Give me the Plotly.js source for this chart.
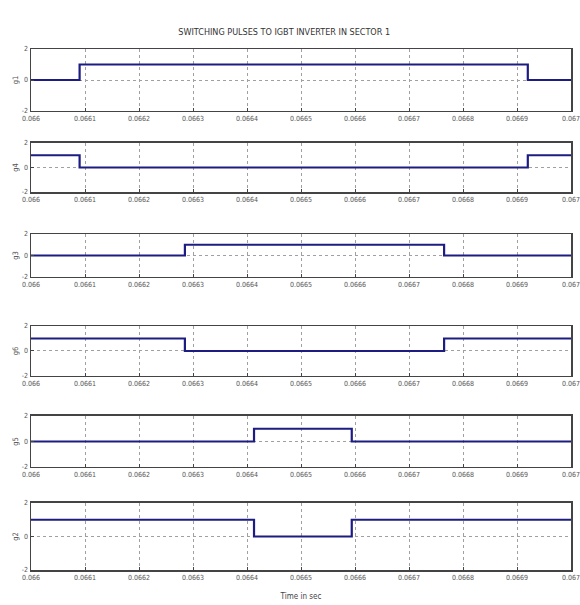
<!DOCTYPE html>
<html>
<head>
<meta charset="utf-8">
<script src="https://cdn.plot.ly/plotly-3.0.1.min.js"></script>
<style>
  html, body { margin: 0; padding: 0; background: #fff; }
  #chart { width: 580px; height: 605px; }
</style>
</head>
<body>
<div id="chart"></div>
<script>
// Gate signals for the six IGBTs over one switching period in sector 1.
// Each signal is a step waveform: switching instants (s) and the level held after each.
const signalNames = ["g1", "g4", "g3", "g6", "g5", "g2"];

const t_g1 = [0.066, 0.06609, 0.06692, 0.067];
const v_g1 = [0, 1, 0, 0];

const t_g4 = [0.066, 0.06609, 0.06692, 0.067];
const v_g4 = [1, 0, 1, 1];

const t_g3 = [0.066, 0.066285, 0.066765, 0.067];
const v_g3 = [0, 1, 0, 0];

const t_g6 = [0.066, 0.066285, 0.066765, 0.067];
const v_g6 = [1, 0, 1, 1];

const t_g5 = [0.066, 0.066413, 0.066594, 0.067];
const v_g5 = [0, 1, 0, 0];

const t_g2 = [0.066, 0.066413, 0.066594, 0.067];
const v_g2 = [1, 0, 1, 1];

const times = [t_g1, t_g4, t_g3, t_g6, t_g5, t_g2];
const levels = [v_g1, v_g4, v_g3, v_g6, v_g5, v_g2];

const xTicks = [0.066, 0.0661, 0.0662, 0.0663, 0.0664, 0.0665, 0.0666, 0.0667, 0.0668, 0.0669, 0.067];
const xTickText = ["0.066", "0.0661", "0.0662", "0.0663", "0.0664", "0.0665", "0.0666", "0.0667", "0.0668", "0.0669", "0.067"];
const yTicks = [-2, 0, 2];
const yTickText = ["-2", "0", "2"];

const chartTitle = "SWITCHING PULSES TO IGBT INVERTER IN SECTOR 1";
const xTitle = "Time in sec";

// Vertical extent of each panel (fractions of the plotting height)
const domains = [
  [0.881, 1.0],
  [0.7255, 0.8196],
  [0.5624, 0.6449],
  [0.3724, 0.4683],
  [0.1977, 0.2956],
  [0.0, 0.1286]
];

const narrow = "Liberation Sans Narrow, DejaVu Sans Condensed, Arial Narrow, sans-serif";

const traces = [];
const layout = {
  width: 580,
  height: 605,
  margin: { l: 31, r: 9, t: 49, b: 35 },
  paper_bgcolor: "#ffffff",
  plot_bgcolor: "#ffffff",
  showlegend: false,
  title: {
    text: chartTitle,
    font: { family: narrow, size: 9, color: "#333" },
    x: 0.49, xanchor: "center",
    y: 0.947, yanchor: "middle"
  }
};

signalNames.forEach((name, i) => {
  const n = i + 1;
  const xa = n === 1 ? "x" : "x" + n;
  const ya = n === 1 ? "y" : "y" + n;
  traces.push({
    type: "scatter",
    mode: "lines",
    x: times[i],
    y: levels[i],
    xaxis: xa,
    yaxis: ya,
    line: { shape: "hv", color: "#1c1c82", width: 2.2 },
    hoverinfo: "skip"
  });
  const xKey = n === 1 ? "xaxis" : "xaxis" + n;
  const yKey = n === 1 ? "yaxis" : "yaxis" + n;
  layout[xKey] = {
    anchor: ya,
    domain: [0, 1],
    // tiny padding so the end ticks survive floating-point rounding
    range: [0.06599999, 0.06700001],
    tickvals: xTicks,
    ticktext: xTickText,
    tickfont: { family: narrow, size: 7, color: "#555" },
    ticklabeloverflow: "allow",
    ticks: "inside",
    ticklen: 3,
    tickcolor: "#444",
    showline: true,
    mirror: true,
    linecolor: "#444",
    linewidth: 1.5,
    showgrid: true,
    gridcolor: "#a0a0a0",
    griddash: "dot",
    gridwidth: 1,
    zeroline: false,
    fixedrange: true
  };
  if (n === signalNames.length) {
    layout[xKey].title = {
      text: xTitle,
      font: { family: narrow, size: 8, color: "#444" },
      standoff: 12
    };
  }
  layout[yKey] = {
    anchor: xa,
    domain: domains[i],
    range: [-2, 2],
    tickvals: yTicks,
    ticktext: yTickText,
    tickfont: { family: narrow, size: 7, color: "#555" },
    ticks: "inside",
    ticklen: 3,
    tickcolor: "#444",
    showline: true,
    mirror: true,
    linecolor: "#444",
    linewidth: 1.5,
    showgrid: true,
    gridcolor: "#a0a0a0",
    griddash: "dot",
    gridwidth: 1,
    zeroline: false,
    fixedrange: true,
    title: {
      text: name,
      font: { family: narrow, size: 7.5, color: "#555" },
      standoff: 2
    }
  };
});

Plotly.newPlot("chart", traces, layout, { displayModeBar: false, staticPlot: true });
</script>
</body>
</html>
